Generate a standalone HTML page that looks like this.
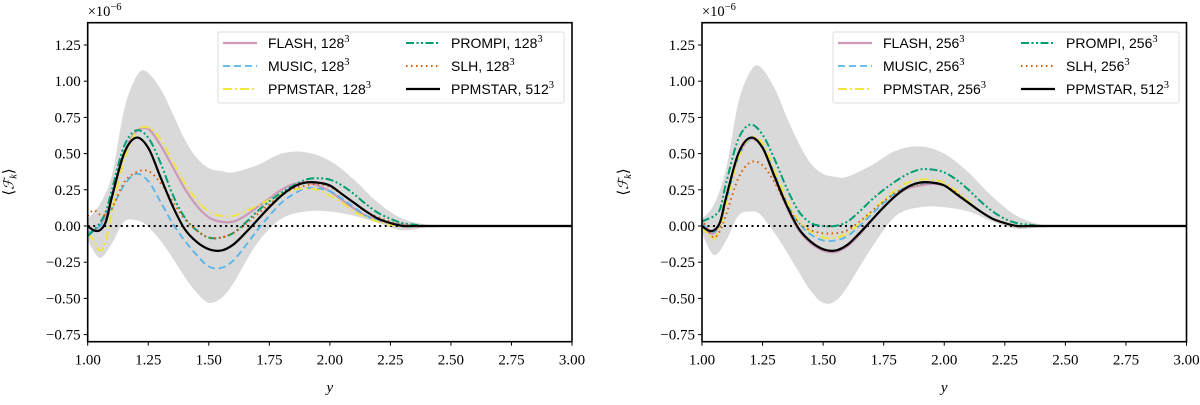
<!DOCTYPE html>
<html><head><meta charset="utf-8"><style>
body{margin:0;background:#fff;}
svg text{font-family:"Liberation Serif",serif;}
.lg{font-family:"Liberation Sans",sans-serif;font-size:14px;}
</style></head><body>
<svg id="chart" width="1200" height="400" xmlns="http://www.w3.org/2000/svg"></svg>
<script>
const xs = [1.0,1.025,1.05,1.075,1.1,1.15,1.2,1.25,1.3,1.35,1.4,1.45,1.5,1.55,1.6,1.65,1.7,1.75,1.8,1.85,1.9,1.95,2.0,2.05,2.1,2.15,2.2,2.25,2.3,2.35,2.4,2.5,3.0];
const xTicks = [1.0,1.25,1.5,1.75,2.0,2.25,2.5,2.75,3.0];
const xTickLabels = ["1.00","1.25","1.50","1.75","2.00","2.25","2.50","2.75","3.00"];
const yTicks = [1.25,1.0,0.75,0.5,0.25,0,-0.25,-0.5,-0.75];
const yTickLabels = ["1.25","1.00","0.75","0.50","0.25","0.00","\u22120.25","\u22120.50","\u22120.75"];
const bandX = [1.0,1.05,1.1,1.15,1.2,1.24,1.3,1.35,1.4,1.45,1.5,1.55,1.6,1.7,1.8,1.9,2.0,2.1,2.2,2.3,2.4,2.5,3.0];
const bandUpL = [0.05,0.15,0.35,0.8,1.03,1.07,0.95,0.78,0.6,0.47,0.4,0.38,0.37,0.42,0.5,0.51,0.45,0.32,0.16,0.05,0.01,0,0];
const bandLoL = [-0.1,-0.22,-0.12,0.03,0.04,0.01,-0.1,-0.22,-0.35,-0.46,-0.53,-0.5,-0.4,-0.12,0.05,0.1,0.1,0.07,0.02,-0.03,-0.01,0,0];
const bandUpR = [0.05,0.15,0.4,0.85,1.07,1.1,0.95,0.75,0.57,0.43,0.36,0.34,0.34,0.42,0.52,0.55,0.5,0.37,0.2,0.07,0.01,0,0];
const bandLoR = [-0.05,-0.2,-0.1,0.07,0.1,0.08,-0.05,-0.18,-0.32,-0.45,-0.53,-0.52,-0.42,-0.15,0.07,0.13,0.13,0.1,0.03,-0.02,-0.01,0,0];
const ref512 = [0.0,-0.03,-0.03,0.03,0.2,0.5,0.61,0.54,0.34,0.14,-0.02,-0.11,-0.16,-0.17,-0.13,-0.05,0.04,0.13,0.21,0.27,0.3,0.3,0.28,0.22,0.16,0.1,0.05,0.02,0.0,0,0,0,0];
const flashL = [-0.05,-0.03,0.0,0.08,0.2,0.5,0.65,0.67,0.56,0.41,0.26,0.14,0.06,0.03,0.03,0.07,0.13,0.19,0.25,0.29,0.3,0.28,0.24,0.18,0.12,0.07,0.04,0.02,0.01,0,0,0,0];
const musicL = [-0.05,-0.03,0.0,0.05,0.12,0.28,0.36,0.31,0.17,0.02,-0.1,-0.2,-0.28,-0.29,-0.24,-0.14,-0.03,0.07,0.16,0.22,0.26,0.26,0.24,0.19,0.13,0.07,0.04,0.02,0.01,0,0,0,0];
const ppmL = [-0.05,-0.1,-0.17,-0.1,0.1,0.45,0.65,0.68,0.6,0.45,0.3,0.18,0.1,0.07,0.07,0.1,0.14,0.18,0.22,0.25,0.26,0.25,0.21,0.16,0.1,0.06,0.03,0.01,0,0,0,0,0];
const prompiL = [-0.07,-0.03,0.02,0.1,0.25,0.55,0.66,0.61,0.44,0.22,0.06,-0.03,-0.08,-0.08,-0.05,0.02,0.1,0.17,0.23,0.28,0.32,0.33,0.32,0.28,0.22,0.15,0.09,0.05,0.02,0.01,0,0,0];
const slhL = [0.07,0.11,0.08,0.08,0.12,0.3,0.37,0.38,0.3,0.17,0.05,-0.03,-0.08,-0.08,-0.05,0.01,0.08,0.15,0.21,0.26,0.28,0.29,0.27,0.22,0.16,0.1,0.06,0.03,0.01,0,0,0,0];
const flashR = [0.0,-0.04,-0.05,0.02,0.18,0.48,0.6,0.54,0.33,0.13,-0.03,-0.12,-0.17,-0.18,-0.14,-0.06,0.04,0.13,0.21,0.26,0.28,0.29,0.28,0.22,0.16,0.1,0.05,0.02,0.0,0,0,0,0];
const musicR = [0.02,-0.02,-0.04,0.02,0.17,0.47,0.6,0.55,0.36,0.16,0.02,-0.06,-0.1,-0.1,-0.07,0.0,0.08,0.16,0.23,0.27,0.29,0.3,0.28,0.23,0.16,0.1,0.05,0.02,0.0,0,0,0,0];
const ppmR = [0.0,-0.06,-0.09,0.0,0.16,0.47,0.61,0.57,0.38,0.18,0.04,-0.04,-0.08,-0.08,-0.05,0.02,0.1,0.18,0.25,0.3,0.32,0.32,0.3,0.24,0.17,0.1,0.05,0.02,0.0,0,0,0,0];
const prompiR = [0.03,0.05,0.07,0.12,0.3,0.6,0.7,0.63,0.46,0.26,0.1,0.02,0.0,0.0,0.03,0.1,0.18,0.25,0.31,0.36,0.39,0.39,0.37,0.32,0.25,0.17,0.1,0.05,0.02,0.01,0,0,0];
const slhR = [0.05,-0.03,-0.08,-0.03,0.08,0.33,0.44,0.42,0.3,0.14,0.02,-0.03,-0.05,-0.05,-0.03,0.03,0.1,0.17,0.23,0.27,0.29,0.3,0.28,0.23,0.16,0.1,0.05,0.02,0.0,0,0,0,0];
const labelsL = ["FLASH, 128","MUSIC, 128","PPMSTAR, 128","PROMPI, 128","SLH, 128","PPMSTAR, 512"];
const labelsR = ["FLASH, 256","MUSIC, 256","PPMSTAR, 256","PROMPI, 256","SLH, 256","PPMSTAR, 512"];

const NS="http://www.w3.org/2000/svg";
const svg=document.getElementById('chart');
function mk(tag,attrs,parent){const e=document.createElementNS(NS,tag);for(const k in attrs)e.setAttribute(k,attrs[k]);(parent||svg).appendChild(e);return e;}
const styles=[
 {c:"#cc99b8",w:2.2,d:""},
 {c:"#56b4e9",w:1.8,d:"7,4"},
 {c:"#f0e442",w:2,d:"9,3,2,3"},
 {c:"#009e73",w:2,d:"8,2.5,2,2.5,2,2.5"},
 {c:"#d55e00",w:2,d:"1.5,3.5"},
 {c:"#000",w:2.2,d:""}];
function smooth(pts){let d="M"+pts[0][0].toFixed(1)+","+pts[0][1].toFixed(1);
 for(let i=0;i<pts.length-1;i++){const p0=pts[Math.max(0,i-1)],p1=pts[i],p2=pts[i+1],p3=pts[Math.min(pts.length-1,i+2)];
  const c1=[p1[0]+(p2[0]-p0[0])/6,p1[1]+(p2[1]-p0[1])/6],c2=[p2[0]-(p3[0]-p1[0])/6,p2[1]-(p3[1]-p1[1])/6];
  d+="C"+c1[0].toFixed(1)+","+c1[1].toFixed(1)+" "+c2[0].toFixed(1)+","+c2[1].toFixed(1)+" "+p2[0].toFixed(1)+","+p2[1].toFixed(1);}
 return d;}
function panel(id,L,R,up,lo,series,labels,lgx){
 const T=22.7,B=341.7;
 const X=v=>L+(v-1)/2*(R-L);
 const Y=v=>226-v*144.8;
 const g=mk('g',{});
 
 
 const cp=mk('clipPath',{id:'cp'+id},g);mk('rect',{x:L,y:T,width:R-L,height:B-T},cp);
 const pg=mk('g',{'clip-path':'url(#cp'+id+')'},g);
 const ptsU=bandX.map((x,i)=>[X(x),Y(up[i])]), ptsD=bandX.map((x,i)=>[X(x),Y(lo[i])]).reverse();
 const dd=smooth(ptsD);
 const band=mk('path',{d:smooth(ptsU)+"L"+dd.slice(1)+"Z",fill:"#d9d9d9",stroke:"none"},pg);
 
 
 const zl=mk('line',{x1:L,x2:R,y1:Y(0),y2:Y(0),stroke:"#000","stroke-width":2,"stroke-dasharray":"2,3.5"},pg);
 
 
 series.forEach((s,k)=>{const st=styles[k];
  const p=mk('path',{d:smooth(xs.map((x,i)=>[X(x),Y(s[i])])),fill:"none",stroke:st.c,"stroke-width":st.w,"stroke-dasharray":st.d},pg);
  
  });
 const fr=mk('rect',{x:L,y:T,width:R-L,height:B-T,fill:"none",stroke:"#000","stroke-width":1.6},g);
 
 
 xTicks.forEach((t,i)=>{mk('line',{x1:X(t),x2:X(t),y1:B,y2:B+4,stroke:"#000","stroke-width":1},g);
  const tx=mk('text',{x:X(t),y:B+23,'text-anchor':'middle','font-size':15},g);tx.textContent=xTickLabels[i];
  
  });
 yTicks.forEach((t,i)=>{mk('line',{x1:L-4,x2:L,y1:Y(t),y2:Y(t),stroke:"#000","stroke-width":1},g);
  const tx=mk('text',{x:L-7,y:Y(t)+5,'text-anchor':'end','font-size':15},g);tx.textContent=yTickLabels[i];
  
  });
 const xt=mk('text',{x:(L+R)/2,y:392,'text-anchor':'middle','font-size':15,'font-style':'italic'},g);xt.textContent="y";
 
 
 const yt=mk('text',{x:0,y:0,'text-anchor':'middle','font-size':15,transform:`translate(${L-74},182) rotate(-90)`},g);
 yt.innerHTML='⟨<tspan font-style="italic" font-family="DejaVu Serif" font-size="14">ℱ</tspan><tspan font-style="italic" font-size="10" dy="3">k</tspan><tspan dy="-3">⟩</tspan>';
 
 
 const ex=mk('text',{x:L,y:16,'font-size':14.5},g);ex.innerHTML='×10<tspan font-size="10.5" dy="-6">−6</tspan>';
 
 
 const lg=mk('g',{},g);
 
 
 mk('rect',{x:lgx,y:32,width:346,height:71,fill:"#fff","fill-opacity":0.85,stroke:"#ddd","stroke-width":1,rx:2},lg);
 labels.forEach((lb,k)=>{const col=k<3?0:1,row=k%3;const x0=lgx+5+col*183,yy=43+row*23;const st=styles[k];
  mk('line',{x1:x0,x2:x0+34,y1:yy,y2:yy,stroke:st.c,"stroke-width":st.w,"stroke-dasharray":st.d},lg);
  const t=mk('text',{x:x0+45,y:yy+5,class:'lg'},lg);t.innerHTML=lb+'<tspan font-family="Liberation Serif" font-size="10.5" dy="-6">3</tspan>';
  
  });
}
panel('left-panel',87.7,572,bandUpL,bandLoL,[flashL,musicL,ppmL,prompiL,slhL,ref512],labelsL,218);
panel('right-panel',702,1186.5,bandUpR,bandLoR,[flashR,musicR,ppmR,prompiR,slhR,ref512],labelsR,833);
</script>
</body></html>
